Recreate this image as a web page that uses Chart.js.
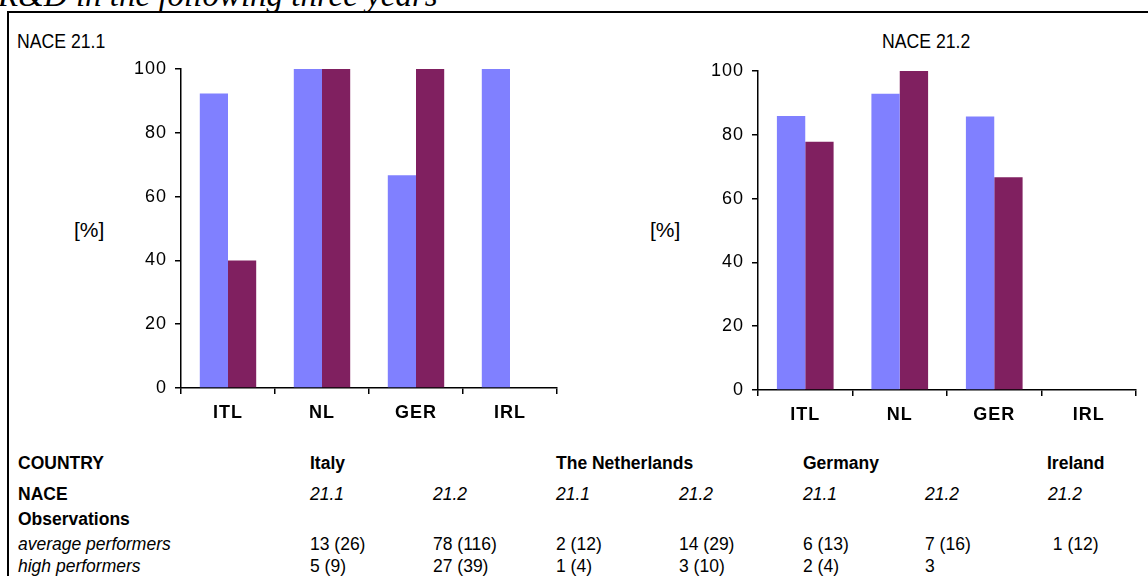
<!DOCTYPE html>
<html>
<head>
<meta charset="utf-8">
<script src="https://cdn.jsdelivr.net/npm/chart.js@4.4.0/dist/chart.umd.min.js"></script>
<style>
  html, body { margin: 0; padding: 0; width: 1148px; height: 576px; overflow: hidden; background: #fff; }
  body { position: relative; font-family: 'Liberation Sans', Arial, sans-serif; color: #000; }
  .t { position: absolute; white-space: nowrap; line-height: 1; }
  #heading { position: absolute; left: -2px; top: -21px; font-family: 'Liberation Serif', 'Times New Roman', serif; font-style: italic; font-size: 33px; line-height: 33px; white-space: nowrap; }
  #frame { position: absolute; left: 7px; top: 11px; width: 1300px; height: 800px; border-left: 2.5px solid #000; border-top: 2.5px solid #000; }
  .ctitle { position: absolute; font-size: 21px; line-height: 1; white-space: nowrap; transform: scaleX(0.84); transform-origin: left top; }
  .unit { position: absolute; font-size: 21px; line-height: 1; }
  canvas { position: absolute; }
  .tb { font-size: 17.5px; }
  .b { font-weight: bold; }
  .i { font-style: italic; }
</style>
</head>
<body>
<div id="heading">R&amp;D in the following three years</div>
<div id="frame"></div>

<div class="ctitle" style="left:17px; top:30px;">NACE 21.1</div>
<div class="ctitle" style="left:882px; top:30px;">NACE 21.2</div>
<div class="unit" style="left:74px; top:219px;">[%]</div>
<div class="unit" style="left:650px; top:219px;">[%]</div>

<canvas id="chart1" width="490" height="390" style="left:90px; top:50px; width:490px; height:390px;"></canvas>
<canvas id="chart2" width="490" height="390" style="left:667px; top:52px; width:490px; height:390px;"></canvas>

<div id="table"></div>

<script>
// chart data
const categories = ['ITL', 'NL', 'GER', 'IRL'];
const yTicks = [0, 20, 40, 60, 80, 100];
const nace211Average = [92.3, 100, 66.7, 100];
const nace211High = [40, 100, 100, null];
const nace212Average = [85.9, 92.9, 85.7, null];
const nace212High = [77.8, 100, 66.7, null];

// table below the charts
const countries = ['Italy', 'The Netherlands', 'Germany', 'Ireland'];
const naceCodes = ['21.1', '21.2', '21.1', '21.2', '21.1', '21.2', '21.2'];
const averageObs = ['13 (26)', '78 (116)', '2 (12)', '14 (29)', '6 (13)', '7 (16)', '\u00a01 (12)'];
const highObs = ['5 (9)', '27 (39)', '1 (4)', '3 (10)', '2 (4)', '3', ''];

const blue = '#8080ff';
const plum = '#802060';
const font = "'Liberation Sans', Arial, sans-serif";

const spacing = {
  id: 'spacing',
  beforeUpdate(chart) { chart.ctx.letterSpacing = '1px'; },
  beforeDraw(chart) { chart.ctx.letterSpacing = '1px'; }
};

function makeChart(id, average, high, padRight) {
  return new Chart(document.getElementById(id), {
    type: 'bar',
    data: {
      labels: categories,
      datasets: [
        { label: 'average performers', data: average, backgroundColor: blue, borderWidth: 0 },
        { label: 'high performers', data: high, backgroundColor: plum, borderWidth: 0 }
      ]
    },
    options: {
      responsive: false,
      animation: false,
      categoryPercentage: 0.6,
      barPercentage: 1,
      layout: { padding: { top: 19, right: padRight, left: 0, bottom: 0 } },
      plugins: { legend: { display: false }, tooltip: { enabled: false } },
      scales: {
        x: {
          afterFit: s => { s.height = 52; },
          grid: { display: true, drawOnChartArea: false, drawTicks: true, tickLength: 6, color: '#000', lineWidth: 1.5, offset: true },
          border: { color: '#000', width: 1.5 },
          ticks: { color: '#000', padding: 8, font: { family: font, size: 18, weight: 'bold' } }
        },
        y: {
          min: 0,
          max: 100,
          afterFit: s => { s.width = 91; },
          afterBuildTicks: s => { s.ticks = yTicks.map(v => ({ value: v })); },
          grid: { display: true, drawOnChartArea: false, drawTicks: true, tickLength: 6, color: '#000', lineWidth: 1.5 },
          border: { color: '#000', width: 1.5 },
          ticks: { color: '#000', padding: 8, font: { family: font, size: 18 } }
        }
      }
    },
    plugins: [spacing]
  });
}

makeChart('chart1', nace211Average, nace211High, 23);
makeChart('chart2', nace212Average, nace212High, 21);

// table text
const colX = [310, 433, 556, 679, 803, 925, 1048];
const countryX = [310, 556, 803, 1047];
const rowTop = [455, 486, 511, 536, 558];
let html = '';
const add = (x, y, txt, cls) => { html += `<div class="t tb ${cls}" style="left:${x}px; top:${y}px;">${txt}</div>`; };
add(18, rowTop[0], 'COUNTRY', 'b');
countries.forEach((c, i) => add(countryX[i], rowTop[0], c, 'b'));
add(18, rowTop[1], 'NACE', 'b');
naceCodes.forEach((c, i) => add(colX[i], rowTop[1], c, 'i'));
add(18, rowTop[2], 'Observations', 'b');
add(18, rowTop[3], 'average performers', 'i');
averageObs.forEach((c, i) => add(colX[i], rowTop[3], c, ''));
add(18, rowTop[4], 'high performers', 'i');
highObs.forEach((c, i) => add(colX[i], rowTop[4], c, ''));
document.getElementById('table').innerHTML = html;
</script>
</body>
</html>
